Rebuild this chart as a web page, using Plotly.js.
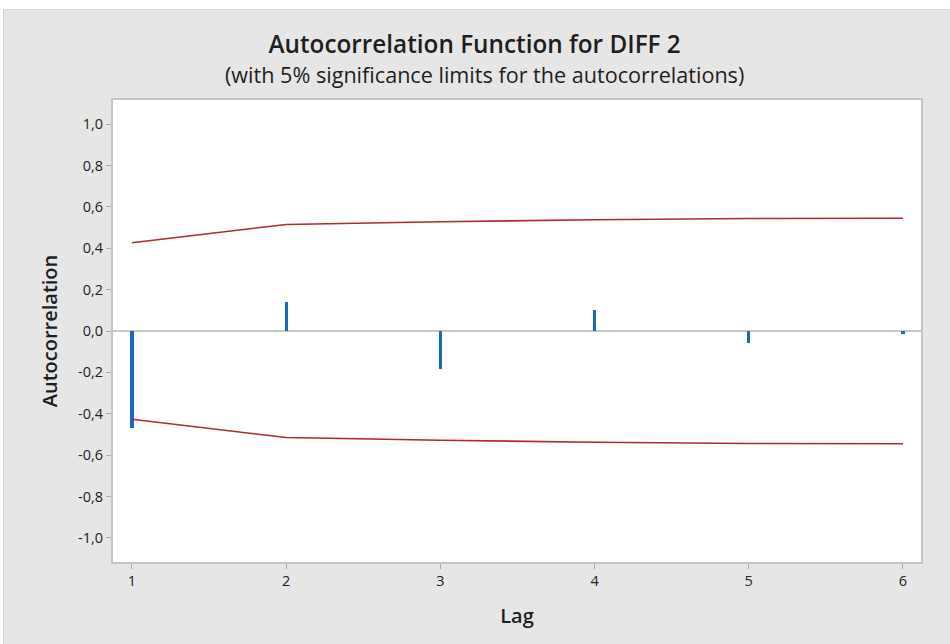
<!DOCTYPE html>
<html>
<head>
<meta charset="utf-8">
<script src="https://cdn.plot.ly/plotly-3.0.1.min.js"></script>
<style>
  html, body { margin: 0; padding: 0; background: #ffffff; }
  #wrap { position: absolute; left: 3px; top: 9px; width: 947px; height: 635px; border-left: 1px solid #d2d2d2; border-top: 1px solid #d8d8d8; box-sizing: border-box; background: #e6e6e6; }
  #chart { width: 946px; height: 634px; }
</style>
</head>
<body>
<div id="wrap"><div id="chart"></div></div>
<script>
// Data
const lags = [1, 2, 3, 4, 5, 6];
const acf = [-0.47, 0.14, -0.185, 0.10, -0.06, -0.015];
const upperLimit = [0.427, 0.515, 0.528, 0.538, 0.544, 0.545];
const lowerLimit = [-0.427, -0.515, -0.528, -0.538, -0.544, -0.545];
const yTickVals = [-1.0, -0.8, -0.6, -0.4, -0.2, 0.0, 0.2, 0.4, 0.6, 0.8, 1.0];
const yTickText = ["-1,0", "-0,8", "-0,6", "-0,4", "-0,2", "0,0", "0,2", "0,4", "0,6", "0,8", "1,0"];
const xTickVals = [1, 2, 3, 4, 5, 6];
const xTickText = ["1", "2", "3", "4", "5", "6"];

const FONT = "'Open Sans', 'Noto Sans', 'DejaVu Sans', sans-serif";

const traces = [
  {
    type: 'bar', x: lags, y: acf, width: 0.02,
    marker: { color: '#1c68bd', line: { width: 0 } },
    hoverinfo: 'x+y', showlegend: false
  },
  {
    type: 'scatter', mode: 'lines', x: lags, y: upperLimit,
    line: { color: '#b02a2a', width: 1.6 }, showlegend: false
  },
  {
    type: 'scatter', mode: 'lines', x: lags, y: lowerLimit,
    line: { color: '#b02a2a', width: 1.6 }, showlegend: false
  }
];

const layout = {
  width: 946, height: 634,
  paper_bgcolor: '#e6e6e6',
  plot_bgcolor: '#ffffff',
  margin: { l: 109, r: 29, t: 90, b: 82, pad: 0 },
  font: { family: FONT, color: '#222222' },
  title: {
    text: 'Autocorrelation Function for DIFF 2',
    font: { family: FONT, size: 24.3, weight: 600, color: '#1e1e1e' },
    x: 0.4975, xref: 'container', xanchor: 'center',
    y: 0.945, yref: 'container', yanchor: 'middle'
  },
  annotations: [{
    text: '(with 5% significance limits for the autocorrelations)',
    xref: 'paper', yref: 'paper',
    x: (483 - 112) / 807, y: 1 + (99 - 74) / 461,
    xanchor: 'center', yanchor: 'middle', showarrow: false,
    font: { family: FONT, size: 21.6, color: '#1e1e1e' }
  }],
  xaxis: {
    range: [0.877, 6.117],
    tickmode: 'array', tickvals: xTickVals, ticktext: xTickText,
    ticks: 'outside', ticklen: 5, tickwidth: 1, tickcolor: '#a8a8a8',
    tickfont: { family: FONT, size: 14.5, color: '#222222' },
    showgrid: false, zeroline: false,
    showline: true, mirror: true, linecolor: '#c4c4c4', linewidth: 2,
    title: { text: 'Lag', font: { family: FONT, size: 20, weight: 600, color: '#1e1e1e' }, standoff: 20 },
    fixedrange: true
  },
  yaxis: {
    range: [-1.117, 1.117],
    tickmode: 'array', tickvals: yTickVals, ticktext: yTickText,
    ticks: 'outside', ticklen: 5, tickwidth: 1, tickcolor: '#a8a8a8',
    tickfont: { family: FONT, size: 14.5, color: '#222222' },
    showgrid: false,
    zeroline: true, zerolinecolor: '#c8c8c8', zerolinewidth: 2,
    showline: true, mirror: true, linecolor: '#c4c4c4', linewidth: 2,
    title: { text: 'Autocorrelation', font: { family: FONT, size: 20, weight: 600, color: '#1e1e1e' }, standoff: 15 },
    fixedrange: true
  },
  bargap: 0
};

Plotly.newPlot('chart', traces, layout, { displayModeBar: false, staticPlot: true });
</script>
</body>
</html>
